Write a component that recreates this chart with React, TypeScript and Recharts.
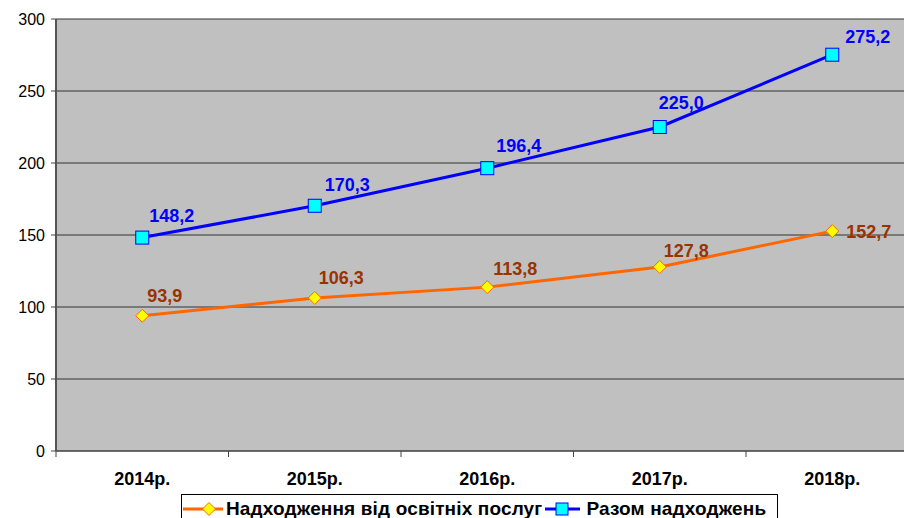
import React from "react";
import { LineChart, Line, XAxis, YAxis, CartesianGrid } from "recharts";

const years = ["2014р.", "2015р.", "2016р.", "2017р.", "2018р."];
const eduServices = [93.9, 106.3, 113.8, 127.8, 152.7];
const totalIncome = [148.2, 170.3, 196.4, 225.0, 275.2];
const yTicks = [0, 50, 100, 150, 200, 250, 300];
const seriesNames = ["Надходження від освітніх послуг", "Разом надходжень"];

const data = years.map((y, i) => ({ x: i, year: y, edu: eduServices[i], total: totalIncome[i] }));
const xTicks = [-0.5, 0, 0.5, 1, 1.5, 2, 2.5, 3, 3.5, 4, 4.5];

// label placement offsets (layout only)
const eduLabelOffsets = [[5, -14], [4, -14], [6, -12], [4, -10], [14, 7]];
const totalLabelOffsets = [[7, -16], [10, -15], [9, -16], [-1, -18], [13, -12]];

const FONT = "'Liberation Sans', Arial, sans-serif";
const fmt = (v: number) => v.toFixed(1).replace(".", ",");

const XTick = (props: any) => {
  const { x, y, payload } = props;
  const v = payload.value as number;
  if (Math.abs(v - Math.round(v)) > 0.1) {
    return <line x1={x} x2={x} y1={y} y2={y + 6} stroke="#444" strokeWidth={1} />;
  }
  return (
    <text x={x} y={y + 34} textAnchor="middle" fontFamily={FONT} fontSize={18} fontWeight="bold" fill="#000">
      {years[Math.round(v)]}
    </text>
  );
};

const Diamond = (props: any) => {
  const { cx, cy } = props;
  if (cx == null || cy == null) return null;
  const r = 6.5;
  return (
    <path
      d={`M${cx},${cy - r}L${cx + r},${cy}L${cx},${cy + r}L${cx - r},${cy}Z`}
      fill="#FFFF00"
      stroke="#FF6600"
      strokeWidth={1}
    />
  );
};

const Square = (props: any) => {
  const { cx, cy } = props;
  if (cx == null || cy == null) return null;
  return <rect x={cx - 6.5} y={cy - 6.5} width={13} height={13} fill="#00FFFF" stroke="#0000FF" strokeWidth={1} />;
};

const makeLabel = (color: string, offsets: number[][]) => (props: any) => {
  const { x, y, value, index } = props;
  const [dx, dy] = offsets[index] || [6, -16];
  return (
    <text x={x + dx} y={y + dy} fontFamily={FONT} fontSize={18} fontWeight="bold" fill={color}>
      {fmt(value)}
    </text>
  );
};

const EduLabel = makeLabel("#993300", eduLabelOffsets);
const TotalLabel = makeLabel("#0000FF", totalLabelOffsets);

export default function App() {
  return (
    <div style={{ position: "absolute", left: 0, top: 0, width: 904, height: 518, overflow: "hidden", background: "#fff" }}>
      <LineChart
        width={930}
        height={518}
        data={data}
        margin={{ top: 19, right: 11.5, bottom: 27, left: 0 }}
      >
        <CartesianGrid vertical={false} stroke="#333" fill="#C0C0C0" horizontalValues={yTicks} />
        <XAxis
          dataKey="x"
          type="number"
          domain={[-0.5, 4.5]}
          ticks={xTicks}
          interval={0}
          tick={<XTick />}
          tickLine={false}
          tickSize={0}
          tickMargin={0}
          axisLine={{ stroke: "#444" }}
          height={40}
          allowDecimals
        />
        <YAxis
          domain={[0, 300]}
          ticks={yTicks}
          width={56}
          tickSize={5}
          tickMargin={6}
          tickLine={{ stroke: "#444" }}
          axisLine={{ stroke: "#555", strokeWidth: 2 }}
          tick={{ fontFamily: FONT, fontSize: 16, fill: "#000" }}
          interval={0}
        />
        <Line
          type="linear"
          dataKey="edu"
          stroke="#FF6600"
          strokeWidth={3}
          dot={<Diamond />}
          isAnimationActive={false}
          label={<EduLabel />}
        />
        <Line
          type="linear"
          dataKey="total"
          stroke="#0000FF"
          strokeWidth={3}
          dot={<Square />}
          isAnimationActive={false}
          label={<TotalLabel />}
        />
      </LineChart>
      <div
        style={{
          position: "absolute",
          left: 181,
          top: 494,
          width: 597,
          height: 40,
          border: "1px solid #000",
          background: "#fff",
          boxSizing: "border-box",
          fontFamily: FONT,
          fontWeight: "bold",
          fontSize: 19,
          letterSpacing: 0.15,
          display: "flex",
          alignItems: "flex-start",
          paddingTop: 3,
          whiteSpace: "nowrap",
        }}
      >
        <svg width={42} height={22} style={{ flex: "none" }}>
          <line x1={1} x2={41} y1={11} y2={11} stroke="#FF6600" strokeWidth={3} />
          <path d="M27,4.5L33.5,11L27,17.5L20.5,11Z" fill="#FFFF00" stroke="#FF6600" strokeWidth={1} />
        </svg>
        <span style={{ marginLeft: 2, lineHeight: "22px" }}>{seriesNames[0]}</span>
        <svg width={38} height={22} style={{ flex: "none", marginLeft: 2 }}>
          <line x1={1} x2={36} y1={11} y2={11} stroke="#0000FF" strokeWidth={3} />
          <rect x={12} y={5} width={12} height={12} fill="#00FFFF" stroke="#0000FF" strokeWidth={1} />
        </svg>
        <span style={{ marginLeft: 4, lineHeight: "22px" }}>{seriesNames[1]}</span>
      </div>
    </div>
  );
}
